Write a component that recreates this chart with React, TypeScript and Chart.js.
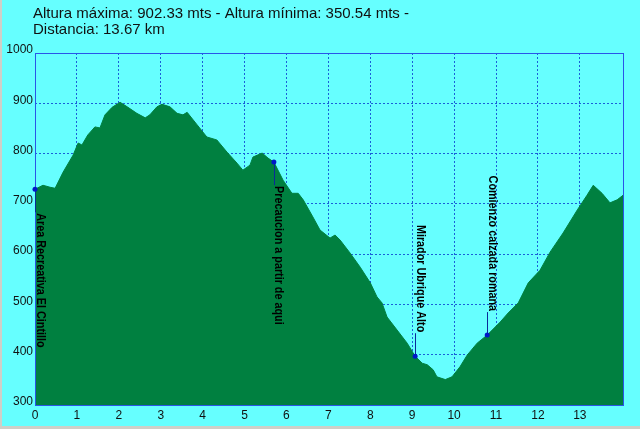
import React, { useEffect, useRef } from "react";
import { Chart, registerables } from "chart.js";

Chart.register(...registerables);

const titleLines = [
  "Altura máxima: 902.33 mts - Altura mínima: 350.54 mts -",
  "Distancia: 13.67 km",
];

const distanceKm = [
  0.0, 0.19, 0.36, 0.48, 0.67, 0.91, 1.03, 1.12, 1.26, 1.43, 1.55, 1.67, 1.84, 2.03, 2.2, 2.43,
  2.63, 2.74, 2.91, 3.03, 3.22, 3.39, 3.53, 3.63, 3.87, 4.1, 4.34, 4.58, 4.82, 4.96, 5.13, 5.2,
  5.42, 5.56, 5.7, 5.92, 6.13, 6.28, 6.4, 6.63, 6.8, 7.04, 7.16, 7.28, 7.52, 7.76, 8.0, 8.16,
  8.28, 8.4, 8.64, 8.88, 9.07, 9.24, 9.36, 9.5, 9.59, 9.79, 9.95, 10.14, 10.31, 10.55, 10.79,
  11.1, 11.29, 11.53, 11.77, 12.05, 12.29, 12.6, 12.94, 13.17, 13.32, 13.53, 13.72, 13.89, 14.03,
];

const elevationM = [
  729, 737, 733, 731, 763, 797, 821, 817, 837, 853, 851, 877, 892, 902, 893, 880,
  871, 877, 893, 898, 893, 880, 877, 882, 857, 833, 827, 803, 781, 767, 777, 793,
  801, 791, 783, 747, 721, 721, 708, 674, 648, 632, 638, 628, 602, 574, 543, 515,
  503, 475, 449, 423, 397, 383, 380, 370, 356, 350.5, 356, 376, 399, 423, 439,
  465, 483, 503, 543, 568, 604, 642, 688, 717, 737, 721, 702, 708, 717,
];

const waypointNames = [
  "Area Recreativa El Cintillo",
  "Precaucion a partir de aqui",
  "Mirador Ubrique Alto",
  "Comienzo calzada romana",
];
const waypointKm = [0.0, 5.7, 9.07, 10.79];
const waypointElev = [729, 783, 397, 439];
const waypointLabelSide = ["below", "below", "above", "above"];

const xTickMax = 13;
const xMax = 14.03;
const yMin = 300;
const yMax = 1000;

export default function App() {
  const ref = useRef<HTMLCanvasElement | null>(null);

  useEffect(() => {
    document.body.style.margin = "0";
    const canvas = ref.current;
    if (!canvas) return;

    const profile = distanceKm.map((x, i) => ({ x, y: elevationM[i] }));
    const markers = waypointKm.map((x, i) => ({ x, y: waypointElev[i] }));

    const condense = 0.83;

    const decor = {
      id: "decor",
      beforeDraw(chart: any) {
        const ctx = chart.ctx;
        ctx.save();
        ctx.fillStyle = "#66ffff";
        ctx.fillRect(0, 0, chart.width, chart.height);
        ctx.fillStyle = "#cfcfc8";
        ctx.fillRect(0, 0, 2, chart.height);
        ctx.fillRect(0, chart.height - 3, chart.width, 3);
        ctx.restore();
      },
      afterDraw(chart: any) {
        const ctx = chart.ctx;
        const a = chart.chartArea;
        const xs = chart.scales.x;
        const ys = chart.scales.y;
        ctx.save();
        // frame of plot area
        ctx.strokeStyle = "#2a55e8";
        ctx.lineWidth = 1;
        ctx.strokeRect(Math.round(a.left) + 0.5, Math.round(a.top) + 0.5, Math.round(a.right - a.left), Math.round(a.bottom - a.top));
        // title
        ctx.fillStyle = "#111";
        ctx.font = "15px 'Liberation Sans', Arial, sans-serif";
        ctx.textBaseline = "alphabetic";
        ctx.textAlign = "left";
        ctx.fillText(titleLines[0], 33, 18);
        ctx.fillText(titleLines[1], 33, 34);
        // waypoint labels
        ctx.font = "bold 13px 'Liberation Sans', Arial, sans-serif";
        const gap = 23;
        waypointNames.forEach((name, i) => {
          const px = xs.getPixelForValue(waypointKm[i]);
          const py = ys.getPixelForValue(waypointElev[i]);
          const w = ctx.measureText(name).width * condense;
          const below = waypointLabelSide[i] === "below";
          ctx.strokeStyle = "#0a2a9a";
          ctx.beginPath();
          ctx.moveTo(Math.round(px) + 0.5, py);
          ctx.lineTo(Math.round(px) + 0.5, below ? py + gap : py - gap);
          ctx.stroke();
          const start = below ? py + gap + 1 : py - gap - 1 - w;
          ctx.save();
          ctx.translate(px + 1.5, start);
          ctx.rotate(Math.PI / 2);
          ctx.scale(condense, 1);
          ctx.fillStyle = "#000";
          ctx.fillText(name, 0, 0);
          ctx.restore();
        });
        // markers on top
        ctx.fillStyle = "#0018c8";
        markers.forEach((m) => {
          ctx.beginPath();
          ctx.arc(xs.getPixelForValue(m.x), ys.getPixelForValue(m.y), 2.5, 0, Math.PI * 2);
          ctx.fill();
        });
        ctx.restore();
      },
    };

    const gridCommon = {
      color: "#1a5fd8",
      lineWidth: 1,
      drawTicks: false,
    };

    const chart = new Chart(canvas, {
      type: "line",
      data: {
        datasets: [
          {
            data: markers,
            showLine: false,
            pointRadius: 0,
            clip: false,
          } as any,
          {
            data: profile,
            fill: "start",
            backgroundColor: "#008040",
            borderColor: "#008040",
            borderWidth: 1,
            pointRadius: 0,
            tension: 0,
          },
        ],
      },
      options: {
        animation: false,
        responsive: false,
        events: [],
        layout: { padding: { left: 0, top: 53, right: 17, bottom: 0 } },
        scales: {
          x: {
            type: "linear",
            min: 0,
            max: xMax,
            z: 1,
            afterBuildTicks: (s: any) => {
              s.ticks = s.ticks.filter((t: any) => t.value <= xTickMax && Number.isInteger(t.value));
            },
            afterFit: (s: any) => {
              s.height = 24;
            },
            ticks: {
              stepSize: 1,
              includeBounds: false,
              padding: 3,
              color: "#111",
              font: { family: "'Liberation Sans', Arial, sans-serif", size: 12 },
              maxRotation: 0,
              autoSkip: false,
              callback: (v: any) => String(v),
            },
            grid: gridCommon,
            border: { display: false, dash: [2, 2] },
          },
          y: {
            type: "linear",
            min: yMin,
            max: yMax,
            z: 1,
            afterFit: (s: any) => {
              s.width = 35;
            },
            ticks: {
              stepSize: 100,
              padding: 2,
              labelOffset: -3,
              color: "#111",
              font: { family: "'Liberation Sans', Arial, sans-serif", size: 12 },
              callback: (v: any) => String(v),
            },
            grid: gridCommon,
            border: { display: false, dash: [2, 2] },
          },
        },
        plugins: {
          legend: { display: false },
          tooltip: { enabled: false },
          title: { display: false },
        },
      },
      plugins: [decor],
    });

    return () => chart.destroy();
  }, []);

  return <canvas ref={ref} width={640} height={429} style={{ display: "block" }} />;
}
